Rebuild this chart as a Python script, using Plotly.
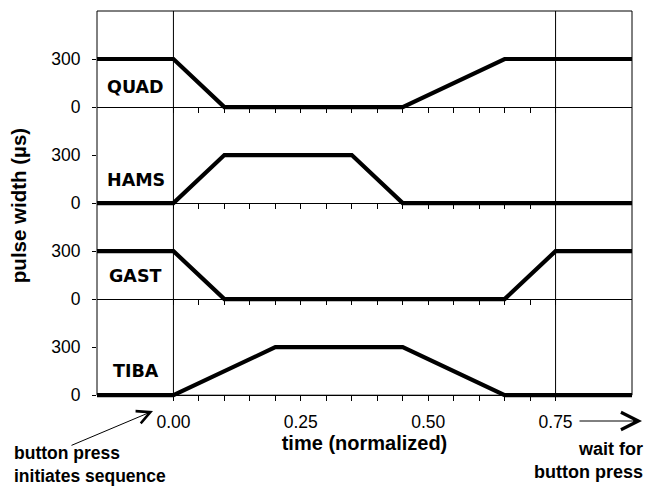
import plotly.graph_objects as go

# ---- data (breakpoints of each muscle's stimulation profile) ----
muscles = ["QUAD", "HAMS", "GAST", "TIBA"]
quad_t = [-0.15, 0.00, 0.10, 0.45, 0.65, 0.90]
quad_us = [300, 300, 0, 0, 300, 300]
hams_t = [-0.15, 0.00, 0.10, 0.35, 0.45, 0.90]
hams_us = [0, 0, 300, 300, 0, 0]
gast_t = [-0.15, 0.00, 0.10, 0.65, 0.75, 0.90]
gast_us = [300, 300, 0, 0, 300, 300]
tiba_t = [-0.15, 0.00, 0.20, 0.45, 0.65, 0.90]
tiba_us = [0, 0, 300, 300, 0, 0]

y_tick_vals = [0, 300]
y_tick_text = ["0", "300"]
x_tick_vals = [round(0.05 * i, 2) for i in range(16)]
x_label_vals = [0.00, 0.25, 0.50, 0.75]
x_label_text = ["0.00", "0.25", "0.50", "0.75"]
marker_lines = [0.00, 0.75]

# ---- layout constants ----
W, H = 655, 488
ML, MR, MT, MB = 97, 23, 11, 88
PANEL = 600            # y-units per panel
PAD = 30               # y-units below the bottom zero line (avoid clipping)
XR = [-0.15, 0.90]
YR = [-PAD, 4 * PANEL]
TOT = YR[1] - YR[0]

FONT = "Liberation Sans, Arial, sans-serif"
BLACK = "#000000"

series = [
    (quad_t, quad_us), (hams_t, hams_us), (gast_t, gast_us), (tiba_t, tiba_us)
]
# bottom panel uses xaxis 'x', then x2, x3, x4 upward
axis_ids = ["x4", "x3", "x2", "x"]
offsets = [3 * PANEL, 2 * PANEL, 1 * PANEL, 0]

fig = go.Figure()
for (t, v), ax_id, off, name in zip(series, axis_ids, offsets, muscles):
    fig.add_trace(go.Scatter(
        x=t, y=[val + off for val in v], xaxis=ax_id, yaxis="y",
        mode="lines", line=dict(color=BLACK, width=4.2), name=name,
        showlegend=False, hoverinfo="skip"))

tick_text_full = [x_label_text[x_label_vals.index(v)] if v in x_label_vals else ""
                  for v in x_tick_vals]

def xaxis_cfg(k, show_labels):
    d = dict(range=XR, showgrid=False, zeroline=False, showline=True,
             linecolor=BLACK, linewidth=1, ticks="outside", ticklen=5,
             tickwidth=1, tickcolor=BLACK, tickmode="array",
             tickvals=x_tick_vals, ticktext=tick_text_full,
             showticklabels=show_labels, anchor="free",
             position=(PAD + k * PANEL) / TOT,
             tickfont=dict(family=FONT, size=17.5, color=BLACK),
             fixedrange=True)
    return d

layout = dict(
    width=W, height=H,
    margin=dict(l=ML, r=MR, t=MT, b=MB, pad=0),
    paper_bgcolor="white", plot_bgcolor="white",
    showlegend=False,
    font=dict(family=FONT, color=BLACK),
)
x0 = xaxis_cfg(0, True)
x0.update(ticklabelstandoff=6,
          title=dict(text="time (normalized)", standoff=3,
                     font=dict(family=FONT, size=20, weight="bold", color=BLACK)))
layout["xaxis"] = x0
for k in (1, 2, 3):
    c = xaxis_cfg(k, False)
    c["overlaying"] = "x"
    layout["xaxis%d" % (k + 1)] = c

yt_vals, yt_text = [], []
for off in sorted(offsets):
    for v, s in zip(y_tick_vals, y_tick_text):
        yt_vals.append(v + off)
        yt_text.append(s)

layout["yaxis"] = dict(
    range=YR, showgrid=False, zeroline=False, showline=False,
    ticks="outside", ticklen=4, tickwidth=1, tickcolor=BLACK,
    tickmode="array", tickvals=yt_vals, ticktext=yt_text,
    tickfont=dict(family=FONT, size=17.5, color=BLACK),
    ticklabelstandoff=8, anchor="x", fixedrange=True,
    title=dict(text="pulse width (µs)", standoff=19,
               font=dict(family=FONT, size=20.5, weight="bold", color=BLACK)),
)
fig.update_layout(**layout)

# frame of the plotting area (paper coords, not clipped)
ybot = PAD / TOT
fig.add_shape(type="rect", xref="paper", yref="paper", x0=0, x1=1, y0=ybot, y1=1,
              line=dict(color=BLACK, width=1), fillcolor="rgba(0,0,0,0)", layer="above")
for xv in marker_lines:
    fig.add_shape(type="line", xref="x", yref="paper", x0=xv, x1=xv, y0=ybot, y1=1,
                  line=dict(color=BLACK, width=1), layer="above")

# panel labels
label_y = [125, 143, 142, 154]
for name, off, ly in zip(muscles, offsets, label_y):
    fig.add_annotation(x=-0.074, y=off + ly, xref="x", yref="y", text=name,
                       showarrow=False, xanchor="center", yanchor="middle",
                       font=dict(family="DejaVu Sans", size=17.5, weight="bold",
                                 color=BLACK))

# helpers: pixel -> paper
def px(xp):
    return (xp - ML) / (W - ML - MR)

def py(yp):
    return (H - MB - yp) / (H - MT - MB)

# arrow to 0.00 and its note
fig.add_annotation(x=px(153), y=py(411), xref="paper", yref="paper", text="",
                   showarrow=True, arrowhead=5, arrowsize=2.6, arrowwidth=1,
                   arrowcolor=BLACK, ax=-83, ay=35, axref="pixel", ayref="pixel",
                   standoff=0)
fig.add_annotation(x=px(12), y=py(441), xref="paper", yref="paper",
                   text="button press<br>initiates sequence", showarrow=False,
                   xanchor="left", yanchor="top", align="left",
                   font=dict(family=FONT, size=17.5, weight="bold", color=BLACK))

# arrow after 0.75 and its note
fig.add_annotation(x=px(642), y=py(421), xref="paper", yref="paper", text="",
                   showarrow=True, arrowhead=5, arrowsize=3.4, arrowwidth=1,
                   arrowcolor=BLACK, ax=-64, ay=0, axref="pixel", ayref="pixel",
                   standoff=0)
fig.add_annotation(x=px(645), y=py(437), xref="paper", yref="paper",
                   text="wait for<br>button press", showarrow=False,
                   xanchor="right", yanchor="top", align="right",
                   font=dict(family=FONT, size=18, weight="bold", color=BLACK))

fig.write_html("out.html")
